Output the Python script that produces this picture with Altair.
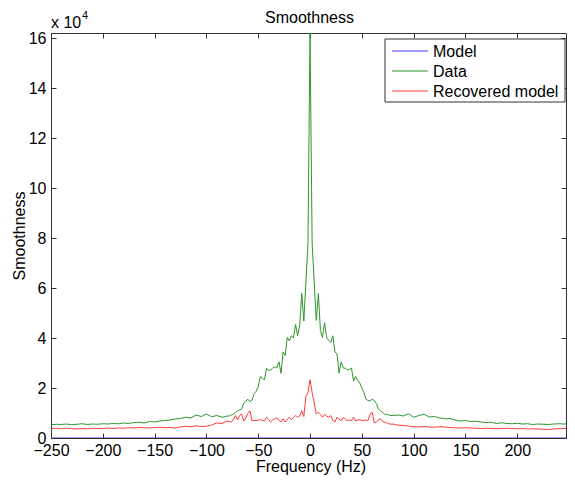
import altair as alt
import pandas as pd

FONT = "Liberation Sans"

# ---------------- data (values in units of 10^4) ----------------
left_tail_freq = [-250, -245, -240, -235, -230, -225, -220, -215, -210, -205, -200, -195,
                  -190, -185, -180, -175, -170, -165, -160, -155, -150, -145, -140, -135,
                  -130, -125, -120, -115, -110, -105, -100, -95, -90, -85, -80]
left_tail_data = [0.53, 0.55, 0.54, 0.56, 0.53, 0.55, 0.57, 0.54, 0.56, 0.55, 0.57, 0.56,
                  0.58, 0.57, 0.60, 0.58, 0.62, 0.63, 0.60, 0.66, 0.64, 0.68, 0.70, 0.72,
                  0.76, 0.78, 0.83, 0.80, 0.92, 0.86, 0.96, 0.85, 0.90, 0.83, 0.88]
left_tail_rec = [0.38, 0.39, 0.37, 0.39, 0.38, 0.36, 0.38, 0.37, 0.39, 0.38, 0.38, 0.40,
                 0.38, 0.40, 0.39, 0.41, 0.40, 0.42, 0.41, 0.40, 0.42, 0.43, 0.41, 0.42,
                 0.40, 0.44, 0.47, 0.45, 0.49, 0.46, 0.47, 0.52, 0.60, 0.58, 0.68]

center_freq = [-78, -76, -74, -72, -70, -68, -66, -64, -62, -60, -58, -56, -54, -52, -50,
               -48, -46, -44, -42, -40, -38, -36, -34, -32, -30, -28, -26, -24, -22, -20,
               -18, -16, -14, -12, -10, -8, -6, -4, -2, 0, 2, 4, 6, 8, 10, 12, 14, 16, 18,
               20, 22, 24, 26, 28, 30, 32, 34, 36, 38, 40, 42, 44, 46, 48, 50, 52, 54, 56,
               58, 60, 62, 64, 66, 68, 70, 72, 74, 76, 78]
center_data = [0.88, 0.92, 0.95, 1.02, 1.09, 1.12, 1.16, 1.40, 1.48, 1.55, 1.45, 1.52, 1.77,
               1.87, 2.05, 2.46, 2.38, 2.33, 2.79, 2.70, 2.72, 2.80, 2.85, 2.80, 3.05, 2.59,
               3.44, 3.30, 4.02, 3.89, 4.09, 4.00, 4.54, 4.09, 4.50, 5.78, 4.68, 6.24, 7.80,
               16.2, 7.80, 6.24, 4.70, 5.78, 4.30, 4.02, 4.61, 4.02, 3.90, 3.83, 4.09, 3.44,
               3.37, 2.59, 3.05, 2.80, 2.79, 2.72, 2.75, 2.79, 2.27, 2.46, 2.30, 2.20, 2.00,
               1.81, 1.55, 1.50, 1.48, 1.55, 1.50, 1.38, 1.16, 1.09, 1.02, 0.96, 0.94, 0.92,
               0.90]
center_rec = [0.66, 0.64, 0.75, 0.90, 0.72, 0.90, 0.96, 0.68, 0.80, 0.99, 1.09, 0.70, 0.70,
              0.70, 0.72, 0.73, 0.70, 0.68, 0.83, 0.75, 0.64, 0.72, 0.77, 0.81, 0.70, 0.64,
              0.77, 0.64, 0.75, 0.83, 0.73, 0.82, 0.90, 0.83, 0.88, 1.09, 0.86, 1.68, 1.81,
              2.33, 1.81, 1.40, 0.96, 1.03, 0.95, 0.83, 0.94, 0.88, 0.83, 0.90, 0.70, 0.64,
              0.83, 0.74, 0.70, 0.83, 0.75, 0.70, 0.72, 0.70, 0.83, 0.68, 0.72, 0.73, 0.70,
              0.70, 0.72, 0.70, 0.96, 1.03, 0.60, 0.64, 0.72, 0.77, 0.66, 0.64, 0.60, 0.57,
              0.55]

right_tail_freq = [80, 85, 90, 95, 100, 105, 110, 115, 120, 125, 130, 135, 140, 145, 150,
                   155, 160, 165, 170, 175, 180, 185, 190, 195, 200, 205, 210, 215, 220, 225,
                   230, 235, 240, 245, 247]
right_tail_data = [0.90, 0.92, 0.88, 0.97, 0.83, 0.90, 0.95, 0.84, 0.86, 0.80, 0.77, 0.78,
                   0.72, 0.68, 0.70, 0.66, 0.67, 0.64, 0.62, 0.63, 0.58, 0.61, 0.58, 0.57,
                   0.59, 0.56, 0.57, 0.54, 0.56, 0.55, 0.54, 0.56, 0.57, 0.56, 0.57]
right_tail_rec = [0.56, 0.51, 0.50, 0.48, 0.45, 0.44, 0.46, 0.44, 0.43, 0.45, 0.44, 0.42,
                  0.41, 0.40, 0.41, 0.40, 0.39, 0.38, 0.39, 0.38, 0.37, 0.38, 0.39, 0.38,
                  0.37, 0.38, 0.36, 0.37, 0.36, 0.35, 0.34, 0.36, 0.37, 0.38, 0.38]

model_freq = [-250, 247]
model_vals = [0.0, 0.0]

series_names = ["Model", "Data", "Recovered model"]
series_colors = ["#3a3aff", "#2e962e", "#ff3c3c"]

x_ticks = [-250, -200, -150, -100, -50, 0, 50, 100, 150, 200]
y_ticks = [0, 2, 4, 6, 8, 10, 12, 14, 16]
x_domain = [-250, 247]
y_domain = [0, 16.2]

title_text = "Smoothness"
x_title = "Frequency (Hz)"
y_title = "Smoothness"
mult_base = "x 10"
mult_exp = "4"

# ---------------- build table ----------------
freq_all = left_tail_freq + center_freq + right_tail_freq
data_all = left_tail_data + center_data + right_tail_data
rec_all = left_tail_rec + center_rec + right_tail_rec

rows = []
for f, v in zip(model_freq, model_vals):
    rows.append({"freq": f, "val": v, "series": "Model"})
for f, v in zip(freq_all, data_all):
    rows.append({"freq": f, "val": v, "series": "Data"})
for f, v in zip(freq_all, rec_all):
    rows.append({"freq": f, "val": v, "series": "Recovered model"})
df = pd.DataFrame(rows)

# whole svg: 559 x 467 (fits the 575x488 window with the 8px page margin)
W, H = 515, 405
PAD = {"left": 43, "top": 25, "right": 1, "bottom": 37}

x_scale = alt.Scale(domain=x_domain, nice=False, zero=False)
y_scale = alt.Scale(domain=y_domain, nice=False, zero=False)

common_axis = dict(domain=False, grid=False, tickSize=5, offset=-5, tickColor="#333333",
                   labelFont=FONT, labelFontSize=16, labelColor="black", labelFlush=False,
                   labelOverlap=False, titleFont=FONT, titleFontSize=16,
                   titleFontWeight="normal", titleColor="black")

lines = alt.Chart(df).mark_line(strokeWidth=1, clip=True).encode(
    x=alt.X("freq:Q", scale=x_scale,
            axis=alt.Axis(orient="bottom", values=x_ticks, title=x_title, labelPadding=4,
                          titleX=W / 2 + 2, titleY=38.5, titleBaseline="alphabetic",
                          titleAlign="center", **common_axis)),
    y=alt.Y("val:Q", scale=y_scale,
            axis=alt.Axis(orient="left", values=y_ticks, title=y_title, labelPadding=5,
                          titleX=-32, titleY=H / 2, titleBaseline="alphabetic",
                          titleAlign="center", titleAngle=270, **common_axis)),
    color=alt.Color("series:N",
                    scale=alt.Scale(domain=series_names, range=series_colors),
                    legend=None),
    order=alt.Order("freq:Q"),
    detail="series:N",
)

mirror_axis = dict(common_axis)
mirror_axis.update(labels=False, title=None)
mirror = alt.Chart(df).mark_line(opacity=0).encode(
    x=alt.X("freq:Q", scale=x_scale, axis=alt.Axis(orient="top", values=x_ticks, **mirror_axis)),
    y=alt.Y("val:Q", scale=y_scale, axis=alt.Axis(orient="right", values=y_ticks, **mirror_axis)),
    detail="series:N",
)

# title and "x 10^4" multiplier as text
title_mark = alt.Chart(pd.DataFrame({"t": [title_text]})).mark_text(
    font=FONT, fontSize=16, align="center", baseline="alphabetic", color="black"
).encode(x=alt.value(W / 2 + 1), y=alt.value(-10.5), text="t:N")

mult1 = alt.Chart(pd.DataFrame({"t": [mult_base]})).mark_text(
    font=FONT, fontSize=16, align="left", baseline="alphabetic", color="black"
).encode(x=alt.value(0), y=alt.value(-5), text="t:N")

mult2 = alt.Chart(pd.DataFrame({"t": [mult_exp]})).mark_text(
    font=FONT, fontSize=11, align="left", baseline="alphabetic", color="black"
).encode(x=alt.value(31), y=alt.value(-14), text="t:N")

# legend box (MATLAB style, inside upper right)
LX = W - 181
leg_box = alt.Chart(pd.DataFrame({"k": [0]})).mark_rect(
    fill="white", stroke="#333333", strokeWidth=1
).encode(x=alt.value(LX), x2=alt.value(LX + 180), y=alt.value(6), y2=alt.value(69))

leg_layers = []
for i, (name, col) in enumerate(zip(series_names, series_colors)):
    ly = 18 + 20 * i
    leg_layers.append(
        alt.Chart(pd.DataFrame({"name": [name]})).mark_rule(color=col, strokeWidth=1).encode(
            x=alt.value(LX + 7), x2=alt.value(LX + 43), y=alt.value(ly))
    )
    leg_layers.append(
        alt.Chart(pd.DataFrame({"name": [name]})).mark_text(
            font=FONT, fontSize=16, align="left", baseline="alphabetic", color="black"
        ).encode(x=alt.value(LX + 48), y=alt.value(ly + 6), text="name:N")
    )

chart = alt.layer(lines, mirror, title_mark, mult1, mult2, leg_box, *leg_layers).resolve_axis(
    x="independent", y="independent"
).properties(
    width=W, height=H,
    autosize=alt.AutoSizeParams(type="none"),
    padding=PAD,
).configure_view(stroke="#333333", strokeWidth=1)

chart.save("out.html", embed_options={"renderer": "svg", "actions": False})
